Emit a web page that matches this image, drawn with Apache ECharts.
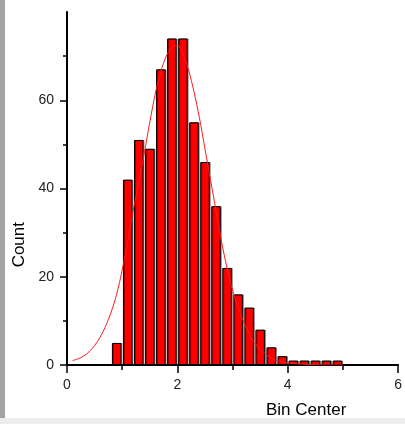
<!DOCTYPE html>
<html lang="en">
<head>
    <meta charset="UTF-8">
    <title>Bin Center histogram</title>
    <script src="https://cdn.jsdelivr.net/npm/echarts@6/dist/echarts.min.js"></script>
    <style>
        html, body { margin: 0; padding: 0; background: #fff; }
    </style>
</head>
<body>
<div id="main" style="width: 405px;height:424px;"></div>
<script type="text/javascript">
    // histogram bins (centers) and counts
    var binCenters = [0.9, 1.1, 1.3, 1.5, 1.7, 1.9, 2.1, 2.3, 2.5, 2.7, 2.9,
                      3.1, 3.3, 3.5, 3.7, 3.9, 4.1, 4.3, 4.5, 4.7, 4.9];
    var counts = [5, 42, 51, 49, 67, 74, 74, 55, 46, 36, 22,
                  16, 13, 8, 4, 2, 1, 1, 1, 1, 1];

    // fitted curve
    var fitX = [0.1, 0.2, 0.3, 0.4, 0.5, 0.6, 0.7, 0.8, 0.9, 1.0,
                1.1, 1.2, 1.3, 1.4, 1.5, 1.6, 1.7, 1.8, 1.9, 2.0,
                2.1, 2.2, 2.3, 2.4, 2.5, 2.6, 2.7, 2.8, 2.9, 3.0,
                3.1, 3.2, 3.3, 3.4, 3.5, 3.6, 3.7, 3.8, 3.9, 4.0,
                4.2, 4.4, 4.6, 5.0];
    var fitY = [1, 1.4, 2, 3, 4.4, 6.3, 8.8, 12, 16, 21.5,
                28, 35, 41.5, 48, 55, 61.5, 66.5, 70, 72, 72.5,
                70.5, 67, 62, 56, 49, 42, 35, 28, 22, 17,
                13, 9.8, 7, 5, 3.5, 2.5, 1.6, 1, 0.7, 0.5,
                0.25, 0.1, 0.05, 0];

    var xTicks = [0, 6, 2];   // min, max, interval
    var yTicks = [0, 80, 20];

    var barData = binCenters.map(function (x, i) { return [x, counts[i]]; });
    var fitData = fitX.map(function (x, i) { return [x, fitY[i]]; });

    var myChart = echarts.init(document.getElementById('main'));
    var fontName = 'Liberation Sans, Arial, sans-serif';

    var option = {
        animation: false,
        grid: { left: 67, right: 4, top: 12, bottom: 59 },
        xAxis: {
            type: 'value',
            min: xTicks[0], max: xTicks[1], interval: xTicks[2],
            axisLine: { lineStyle: { color: '#000', width: 2 } },
            axisTick: { length: 8, lineStyle: { color: '#000', width: 1.5 } },
            minorTick: { show: true, splitNumber: 2, length: 5, lineStyle: { color: '#000', width: 1.5 } },
            splitLine: { show: false },
            axisLabel: { color: '#222', fontSize: 14, fontFamily: fontName, margin: 13 }
        },
        yAxis: {
            type: 'value',
            min: yTicks[0], max: yTicks[1], interval: yTicks[2],
            axisLine: { show: true, lineStyle: { color: '#000', width: 2 } },
            axisTick: { show: true, length: 7, lineStyle: { color: '#000', width: 1.5 } },
            minorTick: { show: true, splitNumber: 2, length: 4, lineStyle: { color: '#000', width: 1.5 } },
            splitLine: { show: false },
            axisLabel: {
                color: '#222', fontSize: 14, fontFamily: fontName, margin: 13,
                formatter: function (v) { return v === yTicks[1] ? '' : v; }
            }
        },
        graphic: [
            // grey strip on the left edge and faint band at the bottom
            { type: 'rect', left: 0, top: 0, z: -10, shape: { width: 5, height: 424 }, style: { fill: '#a3a3a3' } },
            { type: 'rect', left: 0, top: 418, z: -10, shape: { width: 405, height: 6 }, style: { fill: '#eeeeee' } },
            // hide the tick at the very top of the y axis
            { type: 'rect', left: 57, top: 6, z: 100, shape: { width: 9, height: 10 }, style: { fill: '#fff' } },
            { type: 'text', left: 266, top: 402, style: { text: 'Bin Center', fill: '#000', font: '17px ' + fontName } },
            { type: 'text', left: 11, top: 222, rotation: Math.PI / 2, style: { text: 'Count', fill: '#000', font: '17px ' + fontName } }
        ],
        series: [
            {
                type: 'bar',
                data: barData,
                barWidth: 9.5,
                itemStyle: {
                    color: '#ff0000',
                    borderColor: '#000',
                    borderWidth: 1,
                    shadowColor: 'rgba(0,0,0,0.4)',
                    shadowOffsetX: 1,
                    shadowOffsetY: 0,
                    shadowBlur: 0
                },
                z: 2
            },
            {
                type: 'line',
                data: fitData,
                smooth: 0.3,
                showSymbol: false,
                lineStyle: { color: '#ff1a1a', width: 1 },
                z: 3
            }
        ]
    };
    myChart.setOption(option);
</script>
</body>
</html>
